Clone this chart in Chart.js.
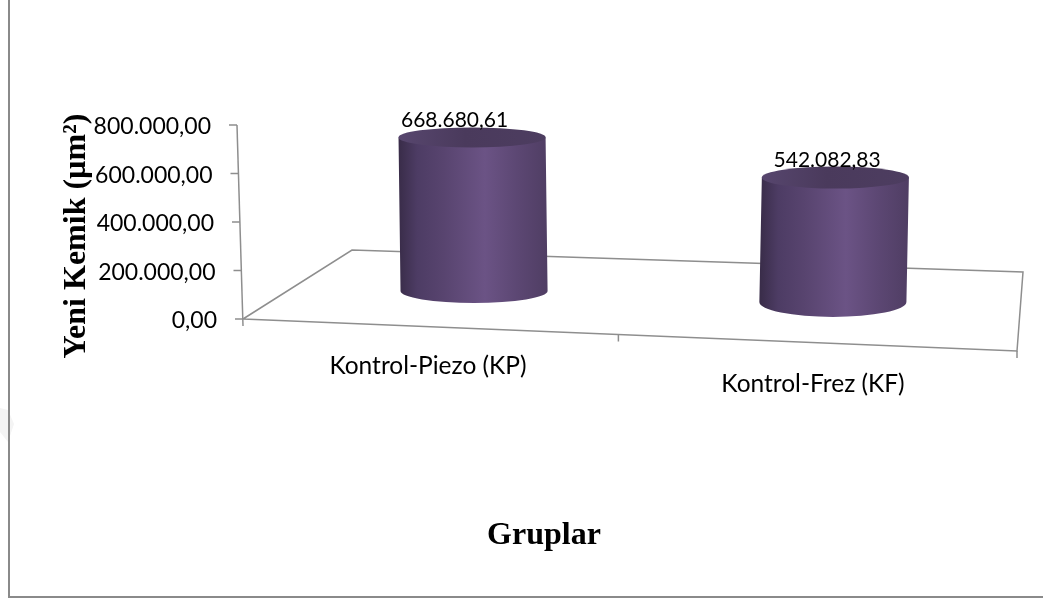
<!DOCTYPE html>
<html><head><meta charset="utf-8">
<style>html,body{margin:0;padding:0;background:#fff}canvas{display:block}</style>
<script src="https://cdn.jsdelivr.net/npm/chart.js@4/dist/chart.umd.js"></script>
</head><body><canvas id="c" width="1043" height="598"></canvas>
<script>
const categories = ['Kontrol-Piezo (KP)', 'Kontrol-Frez (KF)'];
const values = [668680.61, 542082.83];
const axisTitleY = 'Yeni Kemik (µm²)';
const axisTitleX = 'Gruplar';

function fmt(v) {
  const s = Number(v).toFixed(2).split('.');
  return s[0].replace(/\B(?=(\d{3})+$)/g, '.') + ',' + s[1];
}
const FONT_Y = '23px Lato, Carlito, sans-serif';
const FONT_CAT = '24.5px Lato, Carlito, sans-serif';
const FONT_VAL = '21px Lato, Carlito, sans-serif';
const LINE = '#8e8e8e';

// 3D look: perspective parameters of the floor the cylinders stand on
const persp = {
  xScale: 0.933, xShift: 65.8,
  baseAt: 291, baseRef: 473, baseSlope: 0.0305,
  heightScale: 0.947,
  topRy: [10, 11], bottomRy: [12, 15], lean: [-2, 2.5],
  slopeFront: 0.0413, slant: 0.031,
  backLeft: [109, -69], backRight: [6, -79],
  midTick: 0.485,
  labelDx: [-8.5, -10.5], labelY: [374, 392], valueY: [120, 160.5], valueDx: [-18.5, -7]
};

const scene = {
  id: 'scene',
  beforeDatasetsDraw(chart) {
    const ctx = chart.ctx, a = chart.chartArea, ys = chart.scales.y;
    ctx.save();
    // faint mark at the page edge
    ctx.fillStyle = '#f4f4f4';
    ctx.beginPath();
    ctx.moveTo(0, 408); ctx.lineTo(8, 410); ctx.lineTo(14, 424); ctx.lineTo(8, 442); ctx.lineTo(0, 432);
    ctx.closePath(); ctx.fill();
    // frame
    ctx.strokeStyle = '#8a8a8a'; ctx.lineWidth = 2;
    ctx.beginPath();
    ctx.moveTo(9, 0); ctx.lineTo(9, 597); ctx.lineTo(1043, 597);
    ctx.stroke();
    // axes + floor
    const fx = a.left, fy = a.bottom, rx = a.right, ry = a.bottom + (a.right - a.left) * persp.slopeFront;
    ctx.strokeStyle = LINE; ctx.lineWidth = 1.5;
    ctx.beginPath();
    ctx.moveTo(fx, fy); ctx.lineTo(rx, ry);
    ctx.lineTo(rx + persp.backRight[0], ry + persp.backRight[1]);
    ctx.lineTo(fx + persp.backLeft[0], fy + persp.backLeft[1]);
    ctx.lineTo(fx, fy);
    ctx.stroke();
    // slanted value axis
    const slantX = p => a.left + (p - a.bottom) * persp.slant;
    const topP = ys.getPixelForValue(ys.max);
    ctx.beginPath();
    ctx.moveTo(slantX(topP), topP);
    ctx.lineTo(slantX(a.bottom), a.bottom + 7);
    ctx.stroke();
    // value ticks and labels
    ctx.font = FONT_Y; ctx.fillStyle = '#000'; ctx.textAlign = 'right'; ctx.textBaseline = 'middle';
    ys.ticks.forEach(t => {
      const p = ys.getPixelForValue(t.value), x = slantX(p);
      ctx.beginPath(); ctx.moveTo(x - 8, p); ctx.lineTo(x, p); ctx.stroke();
      ctx.fillText(t.label, x - 26, p + 2);
    });
    // category ticks
    const xs = chart.scales.x;
    [a.left + (a.right - a.left) * persp.midTick, a.right].forEach(x => {
      const y = a.bottom + (x - a.left) * persp.slopeFront;
      ctx.beginPath(); ctx.moveTo(x, y); ctx.lineTo(x, y + 7); ctx.stroke();
    });
    // category labels
    ctx.font = FONT_CAT;
    ctx.textAlign = 'center'; ctx.textBaseline = 'alphabetic';
    categories.forEach((c, i) => {
      ctx.fillText(c, xs.getPixelForValue(i) + persp.labelDx[i], persp.labelY[i]);
    });
    // axis titles
    ctx.font = 'bold 32px "Liberation Serif", serif';
    ctx.textAlign = 'center'; ctx.textBaseline = 'middle';
    ctx.fillText(axisTitleX, 544, 536);
    ctx.save(); ctx.translate(77, 236); ctx.rotate(-Math.PI / 2);
    ctx.fillText(axisTitleY, 0, 0); ctx.restore();
    ctx.restore();
  },
  afterDatasetsDraw(chart) {
    const ctx = chart.ctx, meta = chart.getDatasetMeta(0);
    ctx.save();
    meta.data.forEach((bar, i) => {
      const cx = bar.x * persp.xScale + persp.xShift;
      const rx = bar.width / 2;
      const baseY = persp.baseAt + (cx - persp.baseRef) * persp.baseSlope;
      const topY = baseY - (bar.base - bar.y) * persp.heightScale;
      const tx = cx + persp.lean[i] / 2, bx = cx - persp.lean[i] / 2;
      const grad = ctx.createLinearGradient(cx - rx, 0, cx + rx, 0);
      grad.addColorStop(0, '#3a2d4a');
      grad.addColorStop(0.12, '#4d3c64');
      grad.addColorStop(0.3, '#58446f');
      grad.addColorStop(0.58, '#6b5385');
      grad.addColorStop(0.8, '#5c4773');
      grad.addColorStop(1, '#503e64');
      ctx.fillStyle = grad;
      ctx.beginPath();
      ctx.moveTo(tx - rx, topY);
      ctx.lineTo(bx - rx, baseY);
      ctx.ellipse(bx, baseY, rx, persp.bottomRy[i], 0, Math.PI, 0, true);
      ctx.lineTo(tx + rx, topY);
      ctx.closePath();
      ctx.fill();
      const topGrad = ctx.createLinearGradient(cx - rx, 0, cx + rx, 0);
      topGrad.addColorStop(0, '#57466e');
      topGrad.addColorStop(0.45, '#4a3a5c');
      topGrad.addColorStop(1, '#4d3d60');
      ctx.fillStyle = topGrad;
      ctx.beginPath();
      ctx.ellipse(tx, topY, rx, persp.topRy[i], 0, 0, Math.PI * 2);
      ctx.fill();
      ctx.font = FONT_VAL; ctx.fillStyle = '#000';
      ctx.textAlign = 'center'; ctx.textBaseline = 'middle';
      ctx.fillText(fmt(values[i]), cx + persp.valueDx[i], persp.valueY[i]);
    });
    ctx.restore();
  }
};

const hiddenGrid = { display: false, drawTicks: false, tickLength: 0 };
new Chart(document.getElementById('c'), {
  type: 'bar',
  data: { labels: categories, datasets: [{ data: values, backgroundColor: 'rgba(0,0,0,0)', borderWidth: 0,
    categoryPercentage: 1, barPercentage: 0.38 }] },
  options: {
    responsive: false, animation: false,
    layout: { padding: { left: 243, right: 26, top: 125, bottom: 279 } },
    plugins: { legend: { display: false }, tooltip: { enabled: false }, title: { display: false } },
    scales: {
      x: { grid: hiddenGrid, border: { display: false }, ticks: { display: false, padding: 0 } },
      y: { min: 0, max: 800000, grid: hiddenGrid, border: { display: false },
        ticks: { display: false, padding: 0, stepSize: 200000, callback: v => fmt(v) } }
    }
  },
  plugins: [scene]
});
</script></body></html>
